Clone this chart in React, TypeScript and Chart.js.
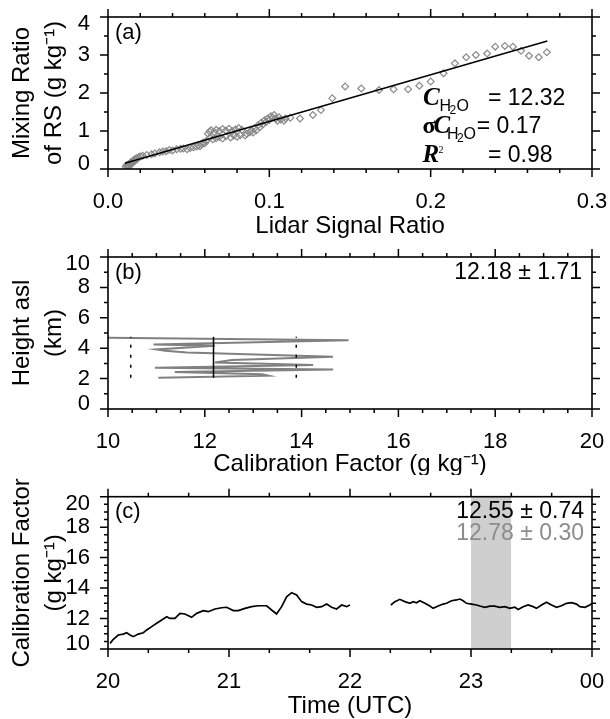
import React, { useEffect, useRef } from "react";
import { Chart, registerables } from "chart.js";

Chart.register(...registerables);

// ---------- Panel (a): lidar signal ratio vs radiosonde mixing ratio ----------
const lidarRatio = [
  0.011, 0.0115, 0.012, 0.0125, 0.013, 0.0135, 0.014, 0.0142, 0.015, 0.0152, 0.016, 0.0163, 0.017, 0.0175, 0.018,
  0.0188, 0.02, 0.0215, 0.024, 0.027, 0.029, 0.032, 0.034, 0.036, 0.038, 0.04, 0.0426, 0.045, 0.0467, 0.049, 0.051,
  0.053, 0.055, 0.056, 0.057, 0.058, 0.059, 0.06, 0.061,
  0.062, 0.063, 0.064, 0.066, 0.067, 0.069, 0.071, 0.073, 0.075, 0.077, 0.079, 0.081, 0.083,
  0.063, 0.065, 0.067, 0.069, 0.071, 0.073, 0.076, 0.078, 0.08, 0.082, 0.085,
  0.086, 0.088, 0.089, 0.09, 0.091, 0.092, 0.093, 0.094, 0.095, 0.096, 0.097, 0.098, 0.099, 0.1, 0.101, 0.102,
  0.103, 0.104, 0.105, 0.106, 0.107, 0.109, 0.11,
  0.113, 0.119, 0.127, 0.132, 0.139, 0.147, 0.157, 0.168, 0.177, 0.186, 0.193, 0.2, 0.208, 0.215, 0.222, 0.228,
  0.235, 0.24, 0.246, 0.251, 0.256, 0.261, 0.267, 0.272,
];
const mixingRatio = [
  0.06, 0.1, 0.08, 0.12, 0.07, 0.14, 0.11, 0.18, 0.15, 0.21, 0.19, 0.25, 0.23, 0.28, 0.26,
  0.31, 0.33, 0.35, 0.37, 0.39, 0.41, 0.44, 0.46, 0.47, 0.5, 0.49, 0.52, 0.53, 0.54, 0.52, 0.55,
  0.57, 0.59, 0.63, 0.6, 0.66, 0.7, 0.68, 0.74,
  0.93, 0.99, 1.02, 0.97, 1.03, 1.0, 1.05, 1.01, 1.06, 1.0, 1.04, 1.08, 1.03,
  0.82, 0.78, 0.81, 0.84, 0.8, 0.86, 0.83, 0.88, 0.85, 0.89, 0.88,
  0.93, 0.97, 1.02, 0.96, 1.08, 1.02, 1.15, 1.1, 1.22, 1.17, 1.28, 1.24, 1.33, 1.29, 1.39, 1.35,
  1.42, 1.33, 1.27, 1.36, 1.3, 1.27, 1.33,
  1.35, 1.33, 1.42, 1.55, 1.86, 2.17, 2.12, 2.08, 2.1, 2.1, 2.19, 2.3, 2.52, 2.78, 2.94, 3.0,
  3.04, 3.22, 3.24, 3.22, 3.11, 2.98, 2.94, 3.07,
];
const fitX = [0.0105, 0.2723];
const fitY = [0.15, 3.37];
const calCoef = 12.32;
const calCoefSigma = 0.17;
const rSquared = 0.98;
const aXTicks = [0, 0.1, 0.2, 0.3];
const aXLabels = ["0.0", "0.1", "0.2", "0.3"];
const aYTicks = [0, 1, 2, 3, 4];

// ---------- Panel (b): calibration factor profile ----------
const profCal = [10.0, 14.97, 10.94, 12.21, 11.0, 11.18, 11.63, 14.65, 12.56, 12.21, 14.24, 10.97, 14.65, 11.38, 13.18, 13.31, 11.04];
const profHeight = [4.68, 4.53, 4.25, 4.16, 3.92, 3.83, 3.72, 3.43, 3.22, 3.06, 2.89, 2.71, 2.6, 2.43, 2.28, 2.19, 2.06];
const profMean = 12.18;
const profStd = 1.71;
const meanHeights = [2.05, 4.75];
const bXTicks = [10, 12, 14, 16, 18, 20];
const bYTicks = [0, 2, 4, 6, 8, 10];

// ---------- Panel (c): calibration factor time series ----------
const timeA = [
  20.017, 20.044, 20.085, 20.126, 20.154, 20.182, 20.209, 20.25, 20.292, 20.32, 20.361, 20.402, 20.444, 20.485,
  20.512, 20.553, 20.595, 20.636, 20.691, 20.733, 20.787, 20.829, 20.884, 20.939, 20.981, 21.035, 21.077, 21.132,
  21.187, 21.242, 21.311, 21.352, 21.393, 21.435, 21.476, 21.518, 21.559, 21.6, 21.641, 21.683, 21.724, 21.766,
  21.807, 21.848, 21.889, 21.931, 21.972, 21.999,
];
const calA = [
  10.37, 10.64, 10.92, 10.98, 11.07, 10.92, 10.81, 10.98, 11.07, 11.25, 11.47, 11.69, 11.9, 12.12,
  12.01, 12.01, 12.34, 12.3, 12.08, 12.34, 12.52, 12.45, 12.63, 12.71, 12.74, 12.52, 12.52, 12.67,
  12.78, 12.84, 12.84, 12.56, 12.3, 12.78, 13.43, 13.7, 13.55, 13.11, 12.95, 12.89, 12.74, 12.78,
  12.95, 12.74, 12.63, 12.89, 12.78, 12.89,
];
const gapTime = 22.17;
const timeB = [
  22.338, 22.371, 22.412, 22.453, 22.495, 22.522, 22.55, 22.577, 22.619, 22.66, 22.687, 22.729, 22.77, 22.798,
  22.839, 22.881, 22.908, 22.935, 22.963, 23.004, 23.046, 23.073, 23.114, 23.156, 23.197, 23.238, 23.28, 23.321,
  23.362, 23.39, 23.431, 23.472, 23.513, 23.541, 23.583, 23.624, 23.665, 23.707, 23.748, 23.789, 23.831, 23.872,
  23.9, 23.941, 23.982, 24.0,
];
const calB = [
  12.89, 13.11, 13.26, 13.11, 13.0, 13.11, 13.04, 13.17, 13.0, 12.82, 12.67, 12.82, 12.95, 13.0,
  13.17, 13.22, 13.28, 13.17, 13.0, 12.95, 12.89, 12.82, 12.74, 12.82, 12.82, 12.74, 12.78, 12.67,
  12.74, 12.6, 12.78, 12.89, 12.78, 12.67, 12.89, 13.07, 12.89, 12.74, 12.84, 13.0, 13.04, 12.95,
  12.78, 12.74, 12.89, 13.0,
];
const shadeTimes = [23.0, 23.333];
const shadeTop = 20;
const allMean = 12.55;
const allStd = 0.74;
const shadeMean = 12.78;
const shadeStd = 0.3;
const cXTicks = [20, 21, 22, 23, 24];
const cXLabels = ["20", "21", "22", "23", "00"];
const cYTicks = [10, 12, 14, 16, 18, 20];

// ---------- styling ----------
const SANS = "'Liberation Sans', Arial, Helvetica, sans-serif";
const SERIF = "'Liberation Serif', 'Times New Roman', serif";
const TICK_FONT = { family: SANS, size: 22 };
const TITLE_FONT = { family: SANS, size: 24 };

const framePlugin = {
  id: "frame",
  beforeDraw(chart: any) {
    const ys = chart.scales.y;
    const items = ys.getLabelItems();
    if (items && items.length > 1) {
      items[0].options.translation[1] -= 5.5;
      items[items.length - 1].options.translation[1] += 7;
    }
  },
  afterDraw(chart: any, _args: any, opts: any) {
    const { ctx, chartArea: a } = chart;
    const xs = chart.scales.x;
    const ys = chart.scales.y;
    ctx.save();
    ctx.strokeStyle = "#000";
    ctx.lineWidth = 1.5;
    ctx.beginPath();
    const seg = (x1: number, y1: number, x2: number, y2: number) => {
      ctx.moveTo(x1, y1);
      ctx.lineTo(x2, y2);
    };
    const majX = xs.ticks.map((t: any) => t.value);
    const nX = Math.round((xs.max - xs.min) / opts.xMinor);
    for (let i = 0; i <= nX; i++) {
      const v = xs.min + i * opts.xMinor;
      const major = majX.some((m: number) => Math.abs(m - v) < opts.xMinor * 0.01);
      const len = major ? 8 : 4;
      const px = xs.getPixelForValue(v);
      seg(px, a.bottom, px, a.bottom + len);
      seg(px, a.top, px, a.top - len);
    }
    const majY = ys.ticks.map((t: any) => t.value);
    const nY = Math.round((ys.max - ys.min) / opts.yMinor);
    for (let i = 0; i <= nY; i++) {
      const v = ys.min + i * opts.yMinor;
      const major = majY.some((m: number) => Math.abs(m - v) < opts.yMinor * 0.01);
      const len = major ? 8 : 4;
      const py = ys.getPixelForValue(v);
      seg(a.left, py, a.left - len, py);
      seg(a.right, py, a.right + len, py);
    }
    ctx.stroke();
    ctx.lineWidth = 1.6;
    ctx.strokeRect(a.left, a.top, a.right - a.left, a.bottom - a.top);
    ctx.restore();
  },
};

function makeScales(o: {
  xMin: number; xMax: number; xTicks: number[]; xLabels: string[]; xTitle: string; xHeight: number; xTitlePad: number;
  yMin: number; yMax: number; yTicks: number[]; yTitle: string[];
}) {
  return {
    x: {
      type: "linear",
      position: "bottom",
      min: o.xMin,
      max: o.xMax,
      afterBuildTicks: (s: any) => {
        s.ticks = o.xTicks.map((v) => ({ value: v }));
      },
      afterFit: (s: any) => {
        s.height = o.xHeight;
        s.paddingLeft = 0;
        s.paddingRight = 0;
        s.paddingTop = 0;
        s.paddingBottom = 0;
      },
      grid: { display: false, drawTicks: false, tickLength: 0 },
      border: { display: false },
      ticks: {
        font: TICK_FONT,
        color: "#000",
        padding: 19.5,
        maxRotation: 0,
        autoSkip: false,
        callback: (_v: any, i: number) => o.xLabels[i],
      },
      title: { display: true, text: o.xTitle, font: TITLE_FONT, color: "#000", padding: { top: 0, bottom: o.xTitlePad } },
    },
    y: {
      type: "linear",
      position: "left",
      min: o.yMin,
      max: o.yMax,
      afterBuildTicks: (s: any) => {
        s.ticks = o.yTicks.map((v) => ({ value: v }));
      },
      afterFit: (s: any) => {
        s.width = 108;
        s.paddingLeft = 0;
        s.paddingRight = 0;
        s.paddingTop = 0;
        s.paddingBottom = 0;
      },
      grid: { display: false, drawTicks: false, tickLength: 0 },
      border: { display: false },
      ticks: {
        font: TICK_FONT,
        color: "#000",
        padding: 18,
        autoSkip: false,
        callback: (v: any) => String(v),
      },
      title: {
        display: true,
        text: o.yTitle,
        font: { family: SANS, size: 24, lineHeight: 1.35 },
        color: "#000",
        padding: { top: 6, bottom: 0 },
      },
    },
  };
}

const baseOptions = (top: number, xMinor: number, yMinor: number) => ({
  responsive: false,
  animation: false,
  events: [],
  layout: { padding: { top, right: 18, left: 0, bottom: 0 } },
  plugins: { legend: { display: false }, tooltip: { enabled: false }, frame: { xMinor, yMinor } },
});

function panelLabel(ctx: any, a: any, text: string) {
  ctx.font = `22px ${SANS}`;
  ctx.fillStyle = "#000";
  ctx.textAlign = "left";
  ctx.textBaseline = "alphabetic";
  ctx.fillText(text, a.left + 7, a.top + 21.5);
}

function configA(): any {
  const annot = {
    id: "annotA",
    afterDraw(chart: any) {
      const { ctx, chartArea: a } = chart;
      ctx.save();
      panelLabel(ctx, a, "(a)");
      ctx.fillStyle = "#000";
      ctx.textAlign = "left";
      ctx.textBaseline = "alphabetic";
      const L = a.left;
      const T = a.top;
      const put = (t: string, font: string, x: number, y: number) => {
        ctx.font = font;
        ctx.fillText(t, L + x, T + y);
      };
      const cFont = `italic bold 25px ${SERIF}`;
      const sub = `16px ${SANS}`;
      const sub2 = `12px ${SANS}`;
      const val = `23px ${SANS}`;
      // row 1
      put("C", cFont, 315, 88);
      put("H", sub, 331.5, 93.5);
      put("2", sub2, 341.5, 97);
      put("O", sub, 348.5, 93.5);
      put(`= ${calCoef.toFixed(2)}`, val, 380, 87.5);
      // row 2
      put("\u03C3", `bold 24px ${SERIF}`, 314.5, 116);
      put("C", cFont, 325.5, 116);
      put("H", sub, 339, 121.5);
      put("2", sub2, 349, 124.5);
      put("O", sub, 355.5, 121.5);
      put(`= ${calCoefSigma.toFixed(2)}`, val, 368.7, 115.7);
      // row 3
      put("R", cFont, 314.5, 145);
      put("2", `10px ${SERIF}`, 330.5, 136);
      put(`= ${rSquared.toFixed(2)}`, val, 380, 145.3);
      ctx.restore();
    },
  };
  return {
    type: "scatter",
    data: {
      datasets: [
        {
          type: "line",
          data: fitX.map((x, i) => ({ x, y: fitY[i] })),
          borderColor: "#000",
          borderWidth: 1.5,
          pointRadius: 0,
          tension: 0,
        },
        {
          type: "scatter",
          data: lidarRatio.map((x, i) => ({ x, y: mixingRatio[i] })),
          pointStyle: "rectRot",
          pointRadius: 3.4,
          borderColor: "#8a8a8a",
          backgroundColor: "rgba(255,255,255,0)",
          borderWidth: 1.2,
        },
      ],
    },
    options: {
      ...baseOptions(17, 0.02, 0.5),
      scales: makeScales({
        xMin: 0, xMax: 0.3, xTicks: aXTicks, xLabels: aXLabels, xTitle: "Lidar Signal Ratio", xHeight: 71, xTitlePad: -1,
        yMin: 0, yMax: 4, yTicks: aYTicks, yTitle: ["Mixing Ratio", "of RS (g kg\u207B\u00B9)"],
      }),
    },
    plugins: [framePlugin, annot],
  };
}

function configB(): any {
  const annot = {
    id: "annotB",
    afterDraw(chart: any) {
      const { ctx, chartArea: a } = chart;
      ctx.save();
      panelLabel(ctx, a, "(b)");
      ctx.font = `23px ${SANS}`;
      ctx.textAlign = "right";
      ctx.fillText(`${profMean.toFixed(2)} \u00B1 ${profStd.toFixed(2)}`, a.right - 10, a.top + 21.5);
      ctx.restore();
    },
  };
  const vline = (x: number, dash: number[]) => ({
    type: "line",
    data: meanHeights.map((h) => ({ x, y: h })),
    borderColor: "#000",
    borderWidth: 1.5,
    borderDash: dash,
    pointRadius: 0,
    tension: 0,
  });
  return {
    type: "scatter",
    data: {
      datasets: [
        vline(profMean, []),
        vline(profMean - profStd, [3, 7]),
        vline(profMean + profStd, [3, 7]),
        {
          type: "line",
          data: profCal.map((x, i) => ({ x, y: profHeight[i] })),
          borderColor: "#808080",
          borderWidth: 2,
          pointRadius: 0,
          tension: 0,
        },
      ],
    },
    options: {
      ...baseOptions(17, 0.5, 1),
      scales: makeScales({
        xMin: 10, xMax: 20, xTicks: bXTicks, xLabels: bXTicks.map(String), xTitle: "Calibration Factor (g kg\u207B\u00B9)", xHeight: 66, xTitlePad: -4,
        yMin: 0, yMax: 10, yTicks: bYTicks, yTitle: ["Height asl", "(km)"],
      }),
    },
    plugins: [framePlugin, annot],
  };
}

function configC(): any {
  const annot = {
    id: "annotC",
    afterDraw(chart: any) {
      const { ctx, chartArea: a } = chart;
      ctx.save();
      panelLabel(ctx, a, "(c)");
      ctx.font = `23px ${SANS}`;
      ctx.textAlign = "right";
      ctx.fillStyle = "#000";
      ctx.fillText(`${allMean.toFixed(2)} \u00B1 ${allStd.toFixed(2)}`, a.right - 8, a.top + 21.6);
      ctx.fillStyle = "#8c8c8c";
      ctx.fillText(`${shadeMean.toFixed(2)} \u00B1 ${shadeStd.toFixed(2)}`, a.right - 8, a.top + 43.3);
      ctx.restore();
    },
  };
  const series = [
    ...timeA.map((x, i) => ({ x, y: calA[i] })),
    { x: gapTime, y: null },
    ...timeB.map((x, i) => ({ x, y: calB[i] })),
  ];
  return {
    type: "scatter",
    data: {
      datasets: [
        {
          type: "line",
          data: series,
          borderColor: "#000",
          borderWidth: 1.7,
          pointRadius: 0,
          tension: 0,
          spanGaps: false,
        },
        {
          type: "line",
          data: shadeTimes.map((x) => ({ x, y: shadeTop })),
          borderWidth: 0,
          borderColor: "rgba(0,0,0,0)",
          backgroundColor: "#cfcfcf",
          fill: "start",
          pointRadius: 0,
          tension: 0,
        },
      ],
    },
    options: {
      ...baseOptions(21.7, 1 / 3, 0.5),
      scales: makeScales({
        xMin: 20, xMax: 24, xTicks: cXTicks, xLabels: cXLabels, xTitle: "Time (UTC)", xHeight: 70, xTitlePad: -2,
        yMin: 10, yMax: 20, yTicks: cYTicks, yTitle: ["Calibration Factor", "(g kg\u207B\u00B9)"],
      }),
    },
    plugins: [framePlugin, annot],
  };
}

export default function App() {
  const refA = useRef<HTMLCanvasElement>(null);
  const refB = useRef<HTMLCanvasElement>(null);
  const refC = useRef<HTMLCanvasElement>(null);

  useEffect(() => {
    const charts = [
      new Chart(refA.current as HTMLCanvasElement, configA()),
      new Chart(refB.current as HTMLCanvasElement, configB()),
      new Chart(refC.current as HTMLCanvasElement, configC()),
    ];
    return () => charts.forEach((c) => c.destroy());
  }, []);

  const cv = (top: number, h: number): React.CSSProperties => ({
    position: "absolute",
    left: 0,
    top,
    width: 610,
    height: h,
  });

  return (
    <div style={{ position: "absolute", left: 0, top: 0, width: 610, height: 719, background: "#fff" }}>
      <canvas ref={refA} width={610} height={240} style={cv(0, 240)} />
      <canvas ref={refB} width={610} height={235} style={cv(240, 235)} />
      <canvas ref={refC} width={610} height={244} style={cv(475, 244)} />
    </div>
  );
}
